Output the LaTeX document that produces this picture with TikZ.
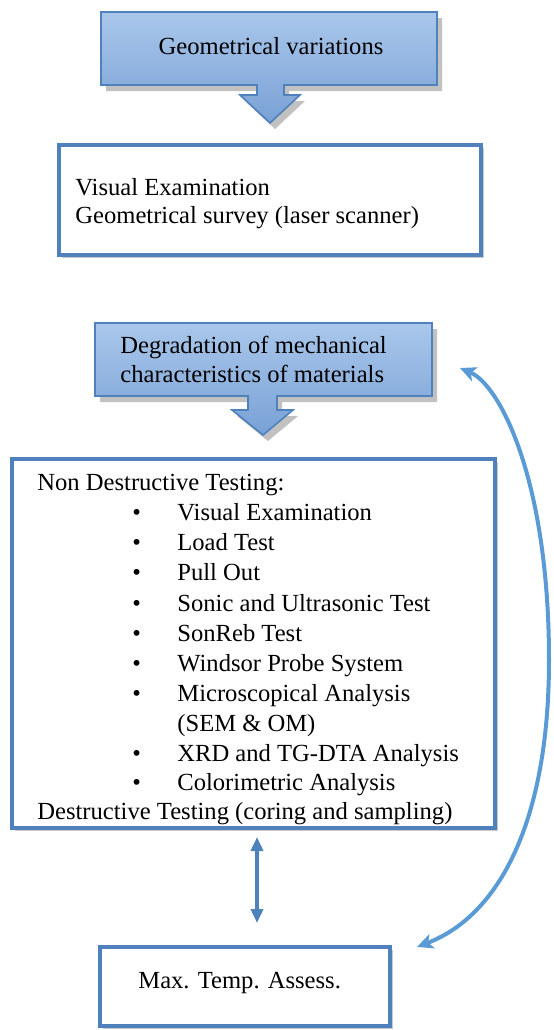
\documentclass[tikz,border=0pt]{standalone}
\usepackage{fontspec}
\setmainfont{Liberation Serif}
\usetikzlibrary{arrows.meta,shadows,calc}
\definecolor{boxblue}{RGB}{79,129,189}
\definecolor{curveblue}{RGB}{91,155,213}
\definecolor{calltop}{RGB}{170,199,235}
\definecolor{callbot}{RGB}{120,161,213}
\begin{document}
\begin{tikzpicture}[x=0.5pt,y=-0.5pt,
  txt/.style={anchor=base west, inner sep=0pt, font=\fontsize{12.3}{15}\selectfont},
  ctxt/.style={anchor=base, inner sep=0pt, font=\fontsize{12.3}{15}\selectfont},
  boxst/.style={draw=boxblue, line width=2pt, fill=white, inner sep=0pt,
    drop shadow={shadow xshift=1.5pt, shadow yshift=-1.5pt, opacity=0.35, fill=black!60}},
  callst/.style={draw=boxblue, line width=0.8pt, top color=calltop, bottom color=callbot,
    drop shadow={shadow xshift=2.5pt, shadow yshift=-3pt, opacity=0.35, fill=black!70}},
  dblarrow/.style={draw=boxblue, line width=2.4pt, {Triangle[length=7pt,width=6pt]}-{Triangle[length=7pt,width=6pt]}},
  curvearr/.style={draw=curveblue, line width=2pt, {Stealth[length=8pt,width=7.5pt,inset=2pt]}-{Stealth[length=8pt,width=7.5pt,inset=2pt]}}
]
\useasboundingbox (0,0) rectangle (553,1030);

% callout 1
\path[callst] (101,12) -- (437,12) -- (437,85) -- (284,85) -- (284,95) -- (300,95)
  -- (270,123) -- (240,95) -- (257,95) -- (257,85) -- (101,85) -- cycle;
\node[ctxt] (geo) at (271,54) {Geometrical variations};

% box 2
\node[boxst, minimum width=211pt, minimum height=55pt] (vis) at (270,200) {};
\node[txt] (vis1) at (75,195) {Visual Examination};
\node[txt] (vis2) at (75,223) {Geometrical survey (laser scanner)};

% callout 2
\path[callst] (95,323) -- (432,323) -- (432,396) -- (277,396) -- (277,410) -- (293,410)
  -- (263,435) -- (232,410) -- (248,410) -- (248,396) -- (95,396) -- cycle;
\node[txt] (deg1) at (120,353) {Degradation of mechanical};
\node[txt] (deg2) at (120,382) {characteristics of materials};

% big box
\node[boxst, minimum width=241.5pt, minimum height=184.5pt] (big) at (253.5,643.5) {};
\node[txt] (ndt) at (37,490) {Non Destructive Testing:};
\foreach \y/\t/\n in {520/Visual Examination/a, 550/Load Test/b, 580/Pull Out/c,
  611/Sonic and Ultrasonic Test/d, 641/SonReb Test/e, 671/Windsor Probe System/f,
  701/Microscopical Analysis/g, 761/XRD and TG-DTA Analysis/h, 790/Colorimetric Analysis/i}{
  \node[txt] (bul\n) at (132,\y) {\textbullet};
  \node[txt] (item\n) at (177,\y) {\t};
}
\node[txt] (semom) at (177,731) {(SEM \& OM)};
\node[txt] (dt) at (37,819) {Destructive Testing (coring and sampling)};

% bottom box
\node[boxst, minimum width=145pt, minimum height=39.5pt] (max) at (245,986.5) {};
\node[txt] (maxt) at (138,988) {Max. Temp. Assess.};

% connectors
\coordinate (dTop) at (257,837);
\coordinate (dBot) at (257,923);
\draw[dblarrow] (dTop) -- (dBot);

\coordinate (cTop) at (460,368);
\coordinate (cBot) at (417,947);
\draw[curvearr] (cTop) .. controls (500,385) and (549,480) .. (549,660)
  .. controls (549,820) and (500,915) .. (cBot);
\end{tikzpicture}
\end{document}
